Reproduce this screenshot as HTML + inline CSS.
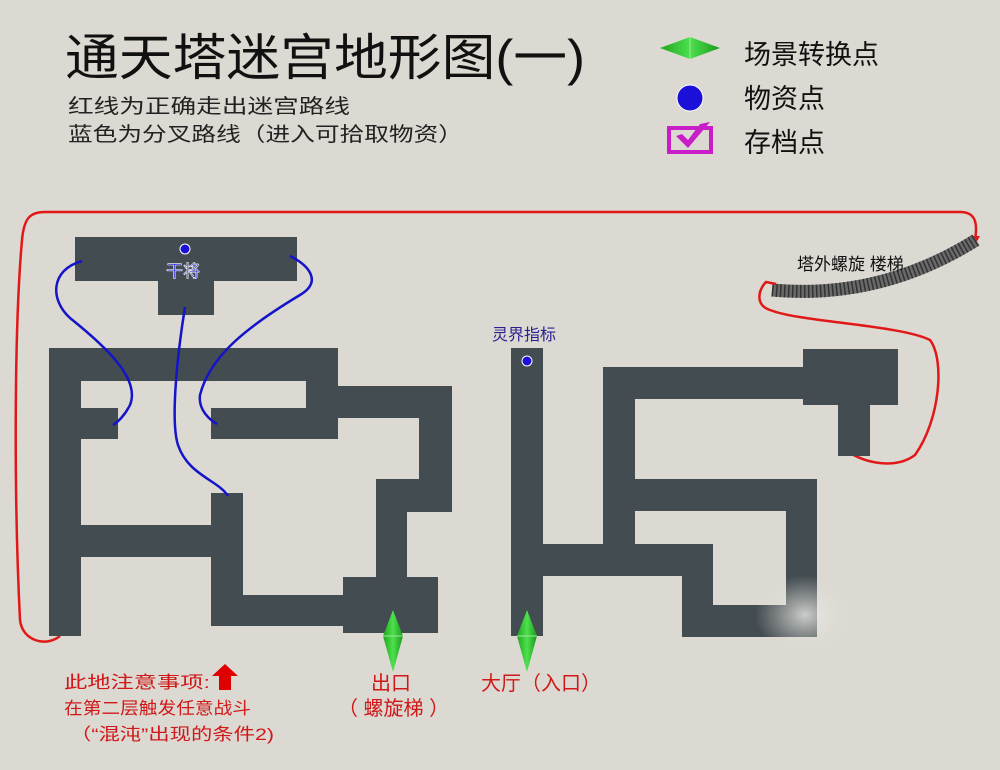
<!DOCTYPE html>
<html><head><meta charset="utf-8"><style>
html,body{margin:0;padding:0;background:#dcd9d2;}
svg{display:block;}
text{font-family:"Liberation Sans","Noto Sans CJK SC",sans-serif;}
</style></head><body>
<svg width="1000" height="770" viewBox="0 0 1000 770" xmlns="http://www.w3.org/2000/svg">
<defs>
<radialGradient id="wm" cx="0.5" cy="0.5" r="0.5"><stop offset="0" stop-color="#eeede9" stop-opacity="0.8"/><stop offset="1" stop-color="#dcd9d2" stop-opacity="0"/></radialGradient>
<linearGradient id="gd" x1="0" y1="0" x2="1" y2="0"><stop offset="0" stop-color="#1fa51f"/><stop offset="0.5" stop-color="#4ee04e"/><stop offset="1" stop-color="#1a9a1a"/></linearGradient>
</defs>
<rect width="1000" height="770" fill="#dcd9d2"/>
<!-- title -->
<text x="65" y="75" font-size="50" fill="#111" textLength="520" lengthAdjust="spacingAndGlyphs">通天塔迷宫地形图(一)</text>
<text x="68" y="113" font-size="20" fill="#222" textLength="282" lengthAdjust="spacingAndGlyphs">红线为正确走出迷宫路线</text>
<text x="68" y="141" font-size="20" fill="#222" textLength="395" lengthAdjust="spacingAndGlyphs">蓝色为分叉路线（进入可拾取物资）</text>
<!-- legend -->
<polygon points="660,48 690,37 720,48 690,59" fill="url(#gd)"/>
<line x1="690" y1="37" x2="690" y2="59" stroke="#9fe89f" stroke-width="1"/>
<circle cx="690" cy="98" r="13" fill="#1a10d8" stroke="#fff" stroke-width="1"/>
<rect x="669" y="128" width="42" height="24" fill="none" stroke="#c81ec8" stroke-width="4"/>
<path d="M676,136 L688,148 L710,122 L700,124 L688,140 L682,134 Z" fill="#c81ec8"/>
<text x="744" y="64" font-size="27" fill="#111">场景转换点</text>
<text x="744" y="108" font-size="27" fill="#111">物资点</text>
<text x="744" y="152" font-size="27" fill="#111">存档点</text>
<!-- red outer path -->
<path d="M60,636 C45,648 22,640 20,620 C14,500 14,330 22,240 C24,218 30,212 45,212 L960,212 C975,212 978,222 975,240" fill="none" stroke="#e01818" stroke-width="2.5"/>
<polygon points="970,236 980,236 975,245" fill="#e01818"/>
<!-- stairs -->
<path d="M772,290 Q880,300 976,240" fill="none" stroke="#6a6a6a" stroke-width="13"/>
<path d="M772,290 Q880,300 976,240" fill="none" stroke="#333" stroke-width="13" stroke-dasharray="1.5,2.5"/>
<text x="797" y="270" font-size="17" fill="#111">塔外螺旋 楼梯</text>
<path d="M776,284 L766,282 C758,290 755,305 770,310 C800,322 900,325 930,340 C945,360 940,420 915,455 C895,470 865,462 852,454" fill="none" stroke="#e01818" stroke-width="2.5"/>
<!-- left maze -->
<g fill="#434c51">
<rect x="75" y="237" width="222" height="44"/>
<rect x="158" y="280" width="56" height="35"/>
<rect x="49" y="348" width="32" height="288"/>
<rect x="49" y="348" width="289" height="33"/>
<rect x="306" y="348" width="32" height="91"/>
<rect x="211" y="408" width="127" height="31"/>
<rect x="81" y="408" width="37" height="31"/>
<rect x="338" y="386" width="114" height="32"/>
<rect x="419" y="386" width="33" height="126"/>
<rect x="376" y="479" width="76" height="33"/>
<rect x="376" y="479" width="31" height="100"/>
<rect x="343" y="577" width="95" height="56"/>
<rect x="81" y="525" width="162" height="32"/>
<rect x="211" y="493" width="32" height="133"/>
<rect x="211" y="595" width="134" height="31"/>
<!-- right maze -->
<rect x="511" y="348" width="32" height="288"/>
<rect x="543" y="544" width="170" height="32"/>
<rect x="603" y="367" width="32" height="209"/>
<rect x="603" y="367" width="210" height="32"/>
<rect x="803" y="349" width="95" height="56"/>
<rect x="838" y="404" width="32" height="52"/>
<rect x="635" y="479" width="182" height="32"/>
<rect x="786" y="479" width="31" height="150"/>
<rect x="682" y="576" width="31" height="61"/>
<rect x="682" y="605" width="135" height="32"/>
</g>
<ellipse cx="805" cy="615" rx="50" ry="40" fill="url(#wm)"/>
<!-- blue lines -->
<g fill="none" stroke="#1414c8" stroke-width="2.5">
<path d="M82,261 C50,270 50,300 70,318 C110,350 140,380 130,405 C125,415 118,422 113,425"/>
<path d="M185,307 C178,350 170,420 178,445 C188,475 218,480 228,496"/>
<path d="M290,256 C310,266 322,282 300,295 C250,325 210,355 200,395 C198,410 210,420 217,424"/>
</g>
<circle cx="185" cy="249" r="5" fill="#1a10d8" stroke="#fff" stroke-width="1"/>
<text x="166" y="277" font-size="17" fill="#2020d0" stroke="#fff" stroke-width="0.6">干将</text>
<circle cx="527" cy="361" r="5" fill="#1a10d8" stroke="#fff" stroke-width="1"/>
<text x="492" y="340" font-size="16" fill="#2a2090">灵界指标</text>
<!-- green diamonds -->
<polygon points="393,610 403,636 393,672 383,636" fill="url(#gd)"/>
<line x1="383" y1="636" x2="403" y2="636" stroke="#9fe89f"/>
<polygon points="527,610 537,636 527,672 517,636" fill="url(#gd)"/>
<line x1="517" y1="636" x2="537" y2="636" stroke="#9fe89f"/>
<!-- bottom labels -->
<text x="64" y="688" font-size="17" fill="#d01818" textLength="146" lengthAdjust="spacingAndGlyphs">此地注意事项:</text>
<text x="64" y="714" font-size="17" fill="#d01818" textLength="187" lengthAdjust="spacingAndGlyphs">在第二层触发任意战斗</text>
<text x="70" y="740" font-size="17" fill="#d01818" textLength="204" lengthAdjust="spacingAndGlyphs">（“混沌”出现的条件2)</text>
<polygon points="225,664 238,676 231,676 231,690 219,690 219,676 212,676" fill="#e00000"/>
<text x="371" y="690" font-size="20" fill="#d01818">出口</text>
<text x="338" y="715" font-size="20" fill="#d01818">（ 螺旋梯 ）</text>
<text x="481" y="690" font-size="20" fill="#d01818">大厅（入口）</text>
</svg>
</body></html>
